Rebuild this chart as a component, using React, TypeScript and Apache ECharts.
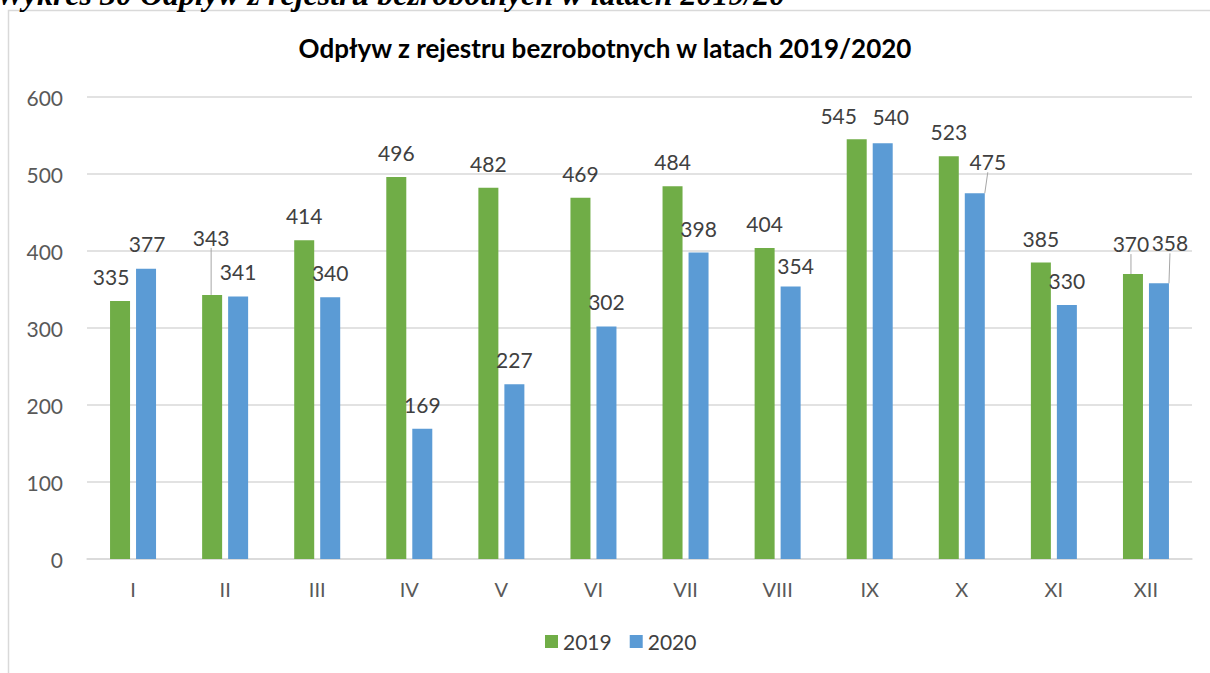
import React, { useEffect, useRef } from "react";
import * as echarts from "echarts";

const categories = ["I", "II", "III", "IV", "V", "VI", "VII", "VIII", "IX", "X", "XI", "XII"];
const values2019 = [335, 343, 414, 496, 482, 469, 484, 404, 545, 523, 385, 370];
const values2020 = [377, 341, 340, 169, 227, 302, 398, 354, 540, 475, 330, 358];
const seriesNames = ["2019", "2020"];
const yMin = 0;
const yMax = 600;
const yInterval = 100;

const chartTitle = "Odpływ z rejestru bezrobotnych w latach 2019/2020";
const captionText = "Wykres 30 Odpływ z rejestru bezrobotnych w latach 2019/20";

// label displacements (layout only), [dx, dy]
const labelShift2019: [number, number][] = [
  [-9, -2], [-1, -35], [0, -2], [0, -2], [0, -2], [0, -2], [0, -2], [0, -2], [-18, -1], [0, -2], [0, -2], [-2, -8],
];
const labelShift2020: [number, number][] = [
  [1, -3], [0, -2], [0, -2], [0, -2], [0, -2], [0, -2], [0, -2], [5, 2], [8, -4], [13, -9], [0, -2], [11, -18],
];
const leader2019 = [1, 11];
const leader2020 = [9, 11];

const FONT = "Lato, 'Open Sans', sans-serif";
const GREEN = "#70AD47";
const BLUE = "#5B9BD5";

function buildData(values: number[], leaders: number[]) {
  return values.map((v, i) =>
    leaders.includes(i)
      ? { value: v, labelLine: { show: true, lineStyle: { color: "#a6a6a6", width: 1 } } }
      : { value: v }
  );
}

export default function App() {
  const ref = useRef<HTMLDivElement>(null);
  useEffect(() => {
    if (!ref.current) return;
    const chart = echarts.init(ref.current, null, { renderer: "svg" });
    const labelStyle = {
      show: true,
      position: "top" as const,
      distance: 12,
      fontFamily: FONT,
      fontSize: 21,
      color: "#404040",
    };
    chart.setOption({
      animation: false,
      backgroundColor: "#ffffff",
      title: {
        text: chartTitle,
        left: "center",
        top: 30,
        textStyle: { fontFamily: FONT, fontSize: 26, fontWeight: "bold", color: "#000000" },
      },
      graphic: [
        {
          type: "rect",
          shape: { x: 8.5, y: 10.5, width: 1220, height: 700 },
          style: { fill: "none", stroke: "#d9d9d9", lineWidth: 1.5 },
          silent: true,
        },
        {
          type: "text",
          x: -4,
          y: 10,
          style: {
            text: captionText,
            font: "italic bold 32px 'Liberation Serif', 'DejaVu Serif', serif",
            fill: "#000000",
            verticalAlign: "bottom",
          },
          silent: true,
        },
      ],
      legend: {
        data: seriesNames,
        bottom: 16,
        left: 540,
        itemWidth: 13,
        itemHeight: 13,
        itemGap: 18,
        icon: "rect",
        textStyle: { fontFamily: FONT, fontSize: 21, color: "#404040" },
      },
      grid: { left: 87, right: 18, top: 97, bottom: 114, containLabel: false },
      xAxis: {
        type: "category",
        data: categories,
        axisLine: { show: true, lineStyle: { color: "#d9d9d9", width: 1.5 } },
        axisTick: { show: false },
        axisLabel: { fontFamily: FONT, fontSize: 20, color: "#595959", margin: 20 },
      },
      yAxis: {
        type: "value",
        min: yMin,
        max: yMax,
        interval: yInterval,
        axisLine: { show: false },
        axisTick: { show: false },
        axisLabel: { fontFamily: FONT, fontSize: 21, color: "#595959", margin: 24 },
        splitLine: { lineStyle: { color: "#d9d9d9", width: 1.5 } },
      },
      series: [
        {
          name: seriesNames[0],
          type: "bar",
          data: buildData(values2019, leader2019),
          barWidth: 20,
          barGap: "30%",
          itemStyle: { color: GREEN },
          label: labelStyle,
          labelLayout: (p: any) => {
            const s = labelShift2019[p.dataIndex];
            return s ? { dx: s[0], dy: s[1] } : {};
          },
        },
        {
          name: seriesNames[1],
          type: "bar",
          data: buildData(values2020, leader2020),
          barWidth: 20,
          barGap: "30%",
          itemStyle: { color: BLUE },
          label: labelStyle,
          labelLayout: (p: any) => {
            const s = labelShift2020[p.dataIndex];
            return s ? { dx: s[0], dy: s[1] } : {};
          },
        },
      ],
    });
    return () => chart.dispose();
  }, []);
  return (
    <div
      ref={ref}
      style={{ position: "absolute", left: 0, top: 0, width: 1210, height: 673 }}
    />
  );
}
